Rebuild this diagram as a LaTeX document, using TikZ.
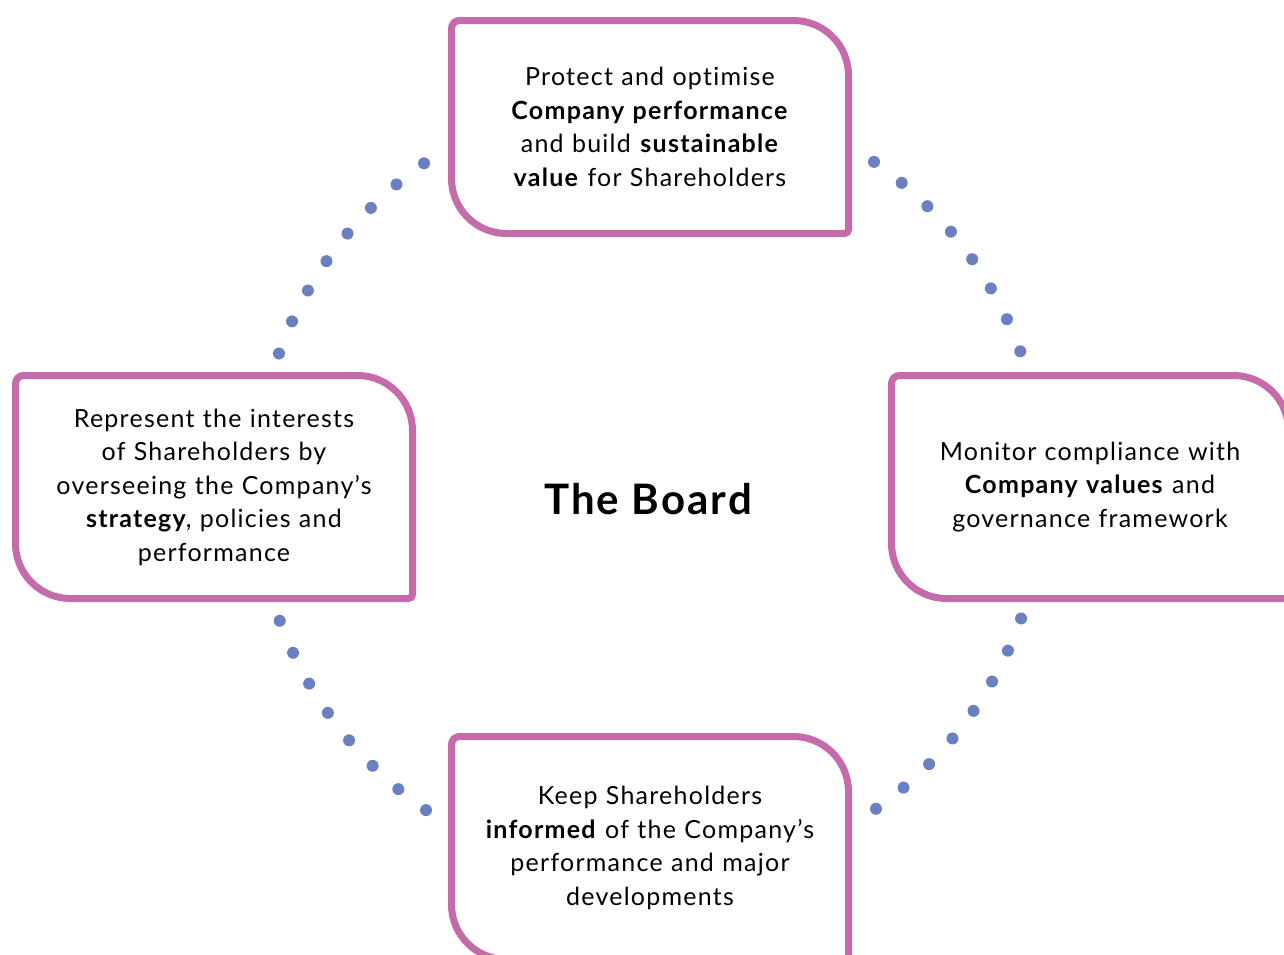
\documentclass[tikz,border=0pt]{standalone}
\usepackage{fontspec}
\setmainfont{Lato}[LetterSpace=5,Ligatures=NoCommon]
\definecolor{leafpink}{RGB}{197,106,170}
\definecolor{dotblue}{RGB}{106,128,194}
\newcommand\leafframe[1]{%
  \draw[leafline]
    (#1.north) [rounded corners=27.5pt] -- (#1.north east)
    [rounded corners=2pt] -- (#1.south east)
    [rounded corners=27.5pt] -- (#1.south west)
    [rounded corners=4pt] -- (#1.north west) -- cycle;}
\begin{document}
\begin{tikzpicture}[x=0.5pt,y=-0.5pt,
    leaf/.style={minimum width=198.5pt,minimum height=106.5pt,outer sep=0pt,
      inner sep=0pt,align=center,text width=195pt,
      font=\fontsize{12.5}{16.75}\selectfont},
    tallleaf/.style={leaf,minimum height=111.5pt},
    leafline/.style={draw=leafpink,line width=3.5pt},
    pearl/.style={fill=dotblue}]
    \useasboundingbox (0,0) rectangle (1284,954);
    \node[leaf] (top) at (650,127) {Protect and optimise\\
      \textbf{Company performance}\\ and build \textbf{sustainable}\\
      \textbf{value} for Shareholders};
    \node[tallleaf] (left) at (214,487) {Represent the interests\\
      of Shareholders by\\ overseeing the Company’s\\
      \textbf{strategy}, policies and\\ performance};
    \node[tallleaf] (right) at (1090,487) {Monitor compliance with\\
      \textbf{Company values} and\\ governance framework};
    \node[tallleaf] (bottom) at (650,848) {Keep Shareholders\\
      \textbf{informed} of the Company’s\\ performance and major\\
      developments};
    \node (board) at (648,499) {\fontsize{21}{25}\selectfont\bfseries The Board};
    \coordinate (hub) at (650,486);

    \leafframe{top}
    \leafframe{left}
    \leafframe{right}
    \leafframe{bottom}

    \foreach \base in {20,125,200,305}
      \foreach \k in {0,...,7}
        \fill[pearl] ([shift={(-\base-5.05*\k:394)}]hub) circle (3pt);
\end{tikzpicture}
\end{document}
